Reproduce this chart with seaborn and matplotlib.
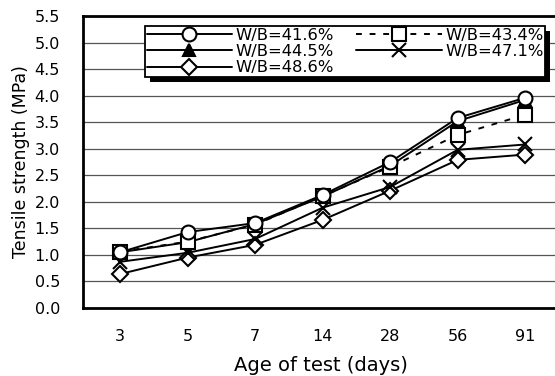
import matplotlib
matplotlib.use("Agg")
import matplotlib.pyplot as plt
from matplotlib.patches import Rectangle
from matplotlib.transforms import IdentityTransform
import seaborn as sns
import pandas as pd
import numpy as np

ages = ["3", "5", "7", "14", "28", "56", "91"]
wb416 = [1.05, 1.43, 1.60, 2.13, 2.75, 3.58, 3.96]
wb434 = [1.06, 1.25, 1.57, 2.11, 2.66, 3.26, 3.64]
wb445 = [1.05, 1.24, 1.58, 2.10, 2.68, 3.52, 3.92]
wb471 = [0.87, 1.04, 1.30, 1.89, 2.28, 2.98, 3.08]
wb486 = [0.64, 0.95, 1.19, 1.66, 2.21, 2.79, 2.89]

series = [
    ("W/B=41.6%", wb416, "o", "white", "-", 10),
    ("W/B=44.5%", wb445, "^", "black", "-", 8),
    ("W/B=48.6%", wb486, "D", "white", "-", 8.5),
    ("W/B=43.4%", wb434, "s", "white", (0, (3, 4)), 10),
    ("W/B=47.1%", wb471, "x", "black", "-", 10),
]

sns.set_style("white")
plt.rcParams["font.family"] = ["DejaVu Sans"]
plt.rcParams.update({"text.color": "black", "axes.labelcolor": "black",
                     "xtick.color": "black", "ytick.color": "black"})

fig = plt.figure(figsize=(5.55, 3.76), dpi=100)
ax = fig.add_axes([83 / 555, 1 - 308 / 376, (559 - 83) / 555, (308 - 16) / 376])

x = np.arange(len(ages))
zorders = {"W/B=41.6%": 6, "W/B=43.4%": 5, "W/B=44.5%": 4, "W/B=47.1%": 3, "W/B=48.6%": 2}
for label, vals, mk, fc, ls, ms in series:
    df = pd.DataFrame({"age": x, "v": vals})
    sns.lineplot(data=df, x="age", y="v", ax=ax, color="black", linestyle=ls,
                 linewidth=1.4, marker=mk, markersize=ms, markerfacecolor=fc,
                 markeredgecolor="black", markeredgewidth=1.5, label=label,
                 zorder=zorders[label])

ax.set_xlim(-0.55, 6.5)
ax.set_ylim(0, 5.5)
ax.set_yticks(np.arange(0, 5.51, 0.5))
ax.set_yticklabels([f"{v:.1f}" for v in np.arange(0, 5.51, 0.5)], fontsize=11.5)
ax.set_xticks(x)
ax.set_xticklabels(ages, fontsize=11.5)
ax.set_xticks(np.arange(0.5, 6.0, 1.0), minor=True)
ax.tick_params(axis="x", which="major", length=0, pad=15)
ax.tick_params(axis="x", which="minor", direction="in", length=5, width=1.5)
ax.tick_params(axis="y", which="major", direction="in", length=5, width=1.5, pad=16.5)
ax.yaxis.grid(True, color="#555555", linewidth=0.9)
ax.xaxis.grid(False)
for s in ax.spines.values():
    s.set_color("black")
    s.set_linewidth(2)

ax.set_xlabel("Age of test (days)", fontsize=14, labelpad=9)
ax.set_ylabel("Tensile strength (MPa)", fontsize=12.5, labelpad=3)

leg = ax.legend(ncol=2, loc="upper left", bbox_to_anchor=((145 - 83) / 476, 1 - (26 - 16) / 292),
                borderaxespad=0, fontsize=11.8, handlelength=5.2, labelspacing=0.08,
                columnspacing=1.4, handletextpad=0.2, borderpad=0.1, fancybox=False,
                framealpha=1, edgecolor="black")
leg.get_frame().set_linewidth(1.3)

fig.canvas.draw()
bb = leg.get_window_extent()
shadow = Rectangle((bb.x0 + 5, bb.y0 - 5), bb.width, bb.height, transform=IdentityTransform(),
                   facecolor="black", edgecolor="none", zorder=4.9, clip_on=False)
ax.add_patch(shadow)
leg.set_zorder(5)

fig.savefig("out.png", dpi=100)
